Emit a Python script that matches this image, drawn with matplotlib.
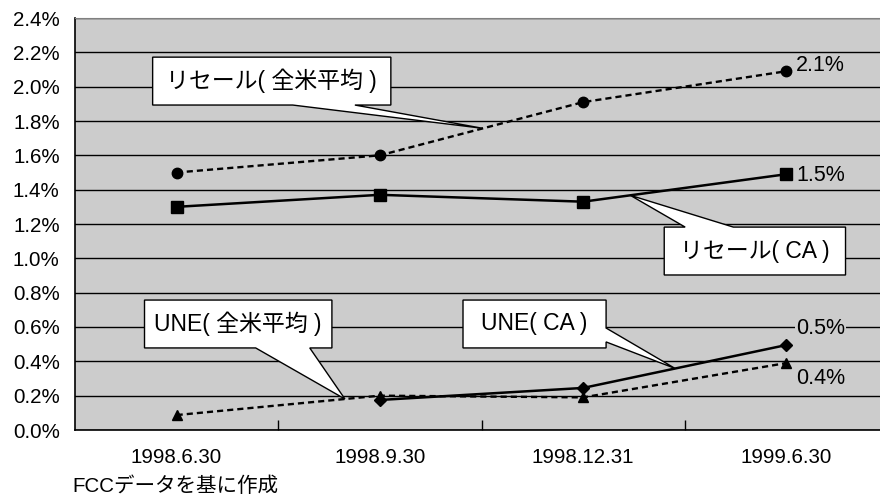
import numpy as np
import matplotlib.pyplot as plt
from matplotlib.patches import Polygon

plt.rcParams['font.family'] = ['Liberation Sans', 'Noto Sans CJK JP', 'DejaVu Sans']

# 時点
dates = ['1998.6.30', '1998.9.30', '1998.12.31', '1999.6.30']

# 各系列 (%)
resale_us = [1.50, 1.60, 1.91, 2.09]      # リセール(全米平均)
resale_ca = [1.30, 1.37, 1.33, 1.49]      # リセール(CA)
une_us = [0.087, 0.20, 0.19, 0.39]        # UNE(全米平均)
une_ca = [np.nan, 0.175, 0.245, 0.495]    # UNE(CA)

x = np.arange(len(dates))

fig = plt.figure(figsize=(8.8, 5.01), dpi=100)
ax = fig.add_axes([75 / 880, 71 / 501, 813 / 880, 412 / 501])
ax.set_facecolor('#cccccc')

dash = (0, (2.6, 1.7))
ax.plot(x, resale_us, color='black', lw=1.7, ls=dash, marker='o', ms=7.5, zorder=3)
ax.plot(x, resale_ca, color='black', lw=1.8, marker='s', ms=8, zorder=3)
ax.plot(x, une_us, color='black', lw=1.7, ls=dash, marker='^', ms=7.5, zorder=3)
ax.plot(x, une_ca, color='black', lw=1.8, marker='D', ms=6, zorder=3)

ax.set_xlim(-0.5, 3.5)
ax.set_ylim(0, 2.4)
ax.set_yticks(np.arange(0, 2.41, 0.2))
ax.set_yticklabels([f'{v:.1f}%' for v in np.arange(0, 2.41, 0.2)], fontsize=14.8)
ax.yaxis.grid(True, color='black', lw=1)
ax.set_axisbelow(True)
ax.tick_params(axis='y', length=0, pad=11)

# 目盛りは区間の境目、ラベルは中央
ax.set_xticks(x[:-1] + 0.5)
ax.set_xticklabels([])
ax.set_xticks(x, minor=True)
ax.set_xticklabels(dates, minor=True, fontsize=14.8)
ax.tick_params(axis='x', which='major', direction='in', length=7, width=1)
ax.tick_params(axis='x', which='minor', length=0, pad=13)

ax.spines['right'].set_visible(False)
ax.spines['top'].set_color('#808080')
for s in ('left', 'bottom'):
    ax.spines[s].set_color('black')
    ax.spines[s].set_linewidth(1.2)

# 最終時点の値
last = [(resale_us, 4), (resale_ca, -1), (une_ca, 12), (une_us, -11)]
for i, (series, dy) in enumerate(last):
    bbox = dict(fc='#cccccc', ec='none', pad=1) if i == 2 else None
    ax.annotate(f'{series[-1]:.1f}%', (x[-1], series[-1]), xytext=(7, dy),
                textcoords='offset points', va='center', ha='left',
                fontsize=15.5, bbox=bbox, zorder=4)


def callout(text, box, base, tip, side='bottom'):
    """吹き出し: box=(x0, x1, y0, y1), base=吹き出し口の2点"""
    x0, x1, y0, y1 = box
    b0, b1 = base
    if side == 'bottom':
        pts = [(x0, y1), (x1, y1), (x1, y0), (b1, y0), tip, (b0, y0), (x0, y0)]
    elif side == 'top':
        pts = [(x0, y1), (b0, y1), tip, (b1, y1), (x1, y1), (x1, y0), (x0, y0)]
    else:  # right
        pts = [(x0, y1), (x1, y1), (x1, b0), tip, (x1, b1), (x1, y0), (x0, y0)]
    ax.add_patch(Polygon(pts, closed=True, fc='white', ec='black', lw=1, zorder=5))
    ax.text((x0 + x1) / 2, (y0 + y1) / 2, text, ha='center', va='center',
            fontsize=16.5, zorder=6)


def on_line(series, xpos):
    return xpos, np.interp(xpos, x[~np.isnan(series)],
                           np.asarray(series)[~np.isnan(series)])


callout('リセール( 全米平均 )', (-0.118, 1.054, 1.893, 2.172), (0.571, 0.877),
        on_line(resale_us, 1.507))
callout('リセール( CA )', (2.399, 3.291, 0.903, 1.182), (2.502, 2.739),
        on_line(resale_ca, 2.232), side='top')
callout('UNE( 全米平均 )', (-0.158, 0.764, 0.478, 0.757), (0.389, 0.655),
        on_line(une_us, 0.828))
callout('UNE( CA )', (1.409, 2.113, 0.478, 0.757), (0.594, 0.513),
        on_line(une_ca, 2.453), side='right')

fig.text(72 / 880, 15 / 501, 'FCCデータを基に作成', fontsize=14.8, va='center')

fig.savefig('out.png', dpi=100)
